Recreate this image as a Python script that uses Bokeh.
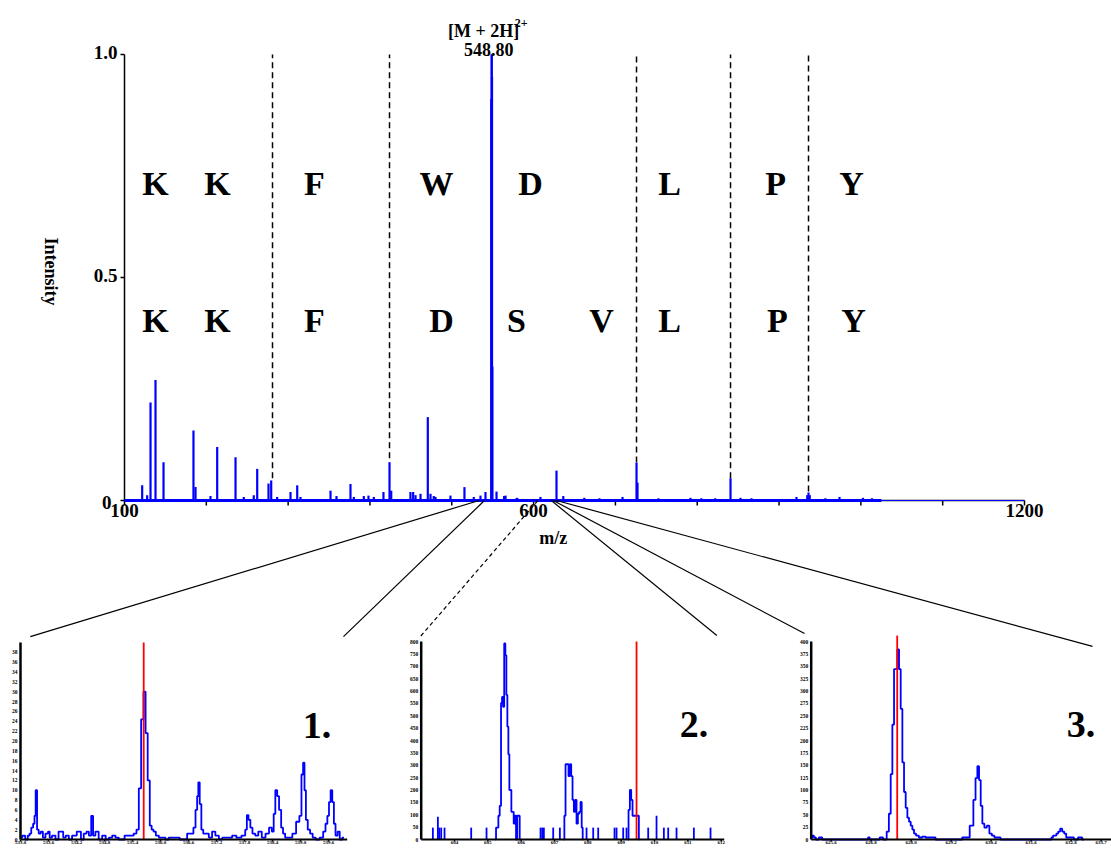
from math import pi
from bokeh.plotting import figure
from bokeh.models import Range1d
from bokeh.core.properties import value
from bokeh.embed import file_html
from bokeh.resources import INLINE

# ---------------- data ----------------
# main MS/MS spectrum (m/z, relative intensity)
main_mz = [121.6, 127.7, 131.8, 137.9, 147.7, 184.3, 186.8, 205.1, 213.3, 235.7,
           245.8, 258.0, 262.2, 276.0, 279.3, 286.6, 302.9, 311.1, 315.1, 351.8,
           359.1, 376.2, 380.3, 392.5, 398.2, 404.7, 416.5, 423.9, 426.0, 449.5,
           452.8, 455.7, 461.8, 470.7, 474.0, 478.0, 480.1, 498.4, 515.5, 526.9,
           535.1, 541.2, 548.3, 548.8, 549.2, 549.6, 554.7, 563.9, 565.7, 579.1,
           580.0, 608.4, 628.0, 636.3, 662.0, 680.5, 708.7, 725.8, 727.0, 752.6,
           791.8, 805.0, 822.0, 840.7, 852.9, 866.3, 921.3, 934.5, 936.0, 937.5,
           956.7, 973.9, 1002.6, 1013.6]
main_int = [0.034, 0.012, 0.22, 0.27, 0.086, 0.157, 0.03, 0.01, 0.12, 0.097,
            0.008, 0.012, 0.071, 0.038, 0.045, 0.008, 0.019, 0.034, 0.008, 0.022,
            0.01, 0.037, 0.008, 0.01, 0.011, 0.008, 0.019, 0.086, 0.022, 0.019,
            0.019, 0.012, 0.015, 0.187, 0.015, 0.01, 0.008, 0.011, 0.03, 0.008,
            0.011, 0.019, 0.90, 1.0, 0.95, 0.30, 0.02, 0.01, 0.011, 0.005,
            0.006, 0.008, 0.067, 0.01, 0.006, 0.005, 0.008, 0.085, 0.04, 0.005,
            0.006, 0.005, 0.005, 0.05, 0.006, 0.005, 0.008, 0.012, 0.018, 0.012,
            0.005, 0.008, 0.006, 0.005]
spectrum_end_mz = 1025.0

parent_mz = 548.80
parent_int = 1.0
parent_label = "548.80"
ion_label = "[M + 2H]"
ion_charge = "2+"

# fragment-ladder boundaries (dashed lines): m/z and lower end (intensity)
dash_mz = [280.9, 423.9, 725.8, 840.7, 936.0]
dash_lo = [0.05, 0.095, 0.085, 0.05, 0.02]

# sequence ladders
row1_letters = ["K", "K", "F", "W", "D", "L", "P", "Y"]
row1_mz = [137.9, 213.7, 332.2, 481.3, 596.2, 766.1, 895.7, 988.5]
row1_level = 0.711
row2_letters = ["K", "K", "F", "D", "S", "V", "L", "P", "Y"]
row2_mz = [137.9, 213.7, 332.2, 487.4, 579.1, 683.0, 766.1, 898.1, 991.0]
row2_level = 0.404

# main axes
main_xtick_vals = [100, 200, 300, 400, 500, 600, 700, 800, 900, 1000, 1100, 1200]
main_xlabel_vals = [100, 600, 1200]
main_xlabel_text = ["100", "600", "1200"]
main_ytick_vals = [0, 0.5, 1.0]
main_ytick_text = ["0", "0.5", "1.0"]
x_title = "m/z"
y_title = "Intensity"

# inset 1
ins1_mz = [533.01, 533.07, 533.13, 533.18, 533.21, 533.25, 533.29, 533.31, 533.34, 533.37,
           533.41, 533.46, 533.50, 533.57, 533.61, 533.64, 533.71, 533.79, 533.84, 533.89,
           533.94, 534.00, 534.07, 534.14, 534.27, 534.32, 534.39, 534.44, 534.49, 534.54,
           534.57, 534.64, 534.71, 534.79, 534.86, 534.93, 535.00, 535.07, 535.14, 535.32,
           535.39, 535.46, 535.51, 535.56, 535.61, 535.66, 535.70, 535.75, 535.79, 535.83,
           535.87, 535.93, 536.00, 536.07, 536.14, 536.21, 536.36, 536.46, 536.68, 536.73,
           536.77, 536.80, 536.82, 536.86, 536.89, 536.94, 537.00, 537.07, 537.14, 537.21,
           537.29, 537.36, 537.50, 537.57, 537.68, 537.79, 537.84, 537.86, 537.91, 537.94,
           538.00, 538.06, 538.13, 538.21, 538.29, 538.36, 538.41, 538.44, 538.48, 538.52,
           538.56, 538.61, 538.64, 538.70, 538.79, 538.86, 538.95, 539.00, 539.04, 539.07,
           539.10, 539.13, 539.18, 539.23, 539.29, 539.36, 539.46, 539.51, 539.56, 539.59,
           539.63, 539.66, 539.70, 539.73, 539.77, 539.82, 539.86, 539.93]
ins1_int = [.01, .02, 0, .02, .03, .06, .08, .12, .25, .05,
            .03, .04, .01, .03, .04, .01, .02, 0, .04, .04,
            .01, .02, 0, .02, .04, 0, .03, .04, .02, .12,
            .02, .04, 0, .02, 0, .01, .02, .01, 0, .02,
            .02, .03, .05, .26, .61, .75, .54, .30, .07, .05,
            .04, .02, .01, .01, 0, .01, .01, 0, .03, .06,
            .15, .22, .29, .18, .05, .03, .03, .01, .04, .02,
            0, .01, .01, .02, .01, .02, .05, .124, .10, .06,
            .03, .02, .04, .01, .03, .06, .04, .13, .25, .22,
            .15, .06, .03, .01, .01, .03, .09, .12, .33, .39,
            .25, .10, .05, .03, .01, 0, .01, .04, .08, .12,
            .19, .25, .19, .08, .02, .04, 0, .01]
ins1_marker_mz = 535.64
ins1_marker_top = 1.0
ins1_xticks = [533.0, 533.6, 534.2, 534.8, 535.4, 536.0, 536.6, 537.2, 537.8, 538.4, 539.0, 539.6]
ins1_xlabels = ["533.0", "533.6", "534.2", "534.8", "535.4", "536.0", "536.6", "537.2",
                "537.8", "538.4", "539.0", "539.6"]
ins1_yticks = [0, .05, .10, .15, .20, .25, .30, .35, .40, .45, .50, .55, .60, .65, .70,
               .75, .80, .85, .90, .95]
ins1_ylabels = ["0", "2", "4", "6", "8", "10", "12", "14", "16", "18", "20", "22", "24",
                "26", "28", "30", "32", "34", "36", "38"]
ins1_name = "1."

# inset 2
ins2_spike_mz = [603.35, 603.50, 603.54, 603.60, 603.70, 604.50, 604.96, 606.58, 606.63,
                 606.68, 606.96, 607.16, 607.96, 608.16, 608.31, 608.80, 608.86,
                 609.06, 609.16, 609.81, 610.06, 610.28, 610.41, 610.66, 611.18, 611.68]
ins2_spike_int = [.06, .115, .06, .06, .06, .06, .06, .06, .06,
                  .06, .06, .06, .06, .06, .06, .06, .06,
                  .06, .06, .06, .12, .06, .06, .06, .06, .06]
ins2_peak_mz = [
    [605.23, 605.26, 605.30, 605.33, 605.38, 605.41, 605.44, 605.47, 605.51, 605.54,
     605.57, 605.60, 605.63, 605.66, 605.69, 605.72, 605.76, 605.79, 605.83, 605.86,
     605.90, 605.94, 605.97],
    [607.28, 607.31, 607.35, 607.40, 607.44, 607.48, 607.52, 607.56, 607.60, 607.64,
     607.68, 607.72, 607.76, 607.80, 607.83, 607.86],
    [609.20, 609.24, 609.28, 609.32, 609.36, 609.40, 609.44, 609.48, 609.52, 609.54],
]
ins2_peak_int = [
    [0, .06, .06, .12, .17, .69, .72, .67, .99, .93,
     .73, .57, .43, .25, .25, .14, .14, .08, .12, 0,
     .12, .12, 0],
    [0, .12, .38, .38, .32, .38, .32, .20, .14, .20,
     .08, .13, .14, .19, .06, 0],
    [0, .15, .25, .20, .12, .12, .12, .12, .12, 0],
]
ins2_marker_mz = 609.46
ins2_marker_top = 1.0
ins2_xticks = [604, 605, 606, 607, 608, 609, 610, 611, 612]
ins2_xlabels = ["604", "605", "606", "607", "608", "609", "610", "611", "612"]
ins_yticks16 = [0, .0625, .125, .1875, .25, .3125, .375, .4375, .5, .5625, .625, .6875,
                .75, .8125, .875, .9375, 1.0]
ins2_ylabels = ["0", "50", "100", "150", "200", "250", "300", "350", "400", "450", "500",
                "550", "600", "650", "700", "750", "800"]
ins2_name = "2."

# inset 3
ins3_mz = [625.00, 625.06, 625.10, 625.18, 625.28, 625.38, 626.68, 626.73, 626.78, 627.03,
           627.08, 627.23, 627.30, 627.36, 627.41, 627.46, 627.51, 627.56, 627.61, 627.66,
           627.71, 627.76, 627.81, 627.86, 627.91, 627.96, 628.01, 628.06, 628.11, 628.18,
           628.28, 628.38, 628.48, 628.58, 628.68, 628.78, 629.38, 629.68, 629.83, 629.90,
           629.96, 630.01, 630.06, 630.11, 630.16, 630.23, 630.31, 630.38, 630.46, 630.53,
           630.63, 630.73, 632.18, 632.23, 632.28, 632.33, 632.38, 632.44, 632.50, 632.56,
           632.62, 632.68, 632.73, 632.83, 632.93, 633.08, 633.18]
ins3_int = [.01, .02, .01, 0, .01, 0, 0, .01, 0, 0,
            .01, 0, .04, .13, .33, .58, .86, .86, .96, .86,
            .66, .39, .24, .16, .11, .09, .07, .05, .03, .02,
            .01, .015, .01, .01, .01, 0, 0, .01, .07, .20,
            .31, .37, .30, .17, .08, .06, .07, .03, .02, .01,
            .01, 0, 0, .01, .02, .02, .03, .04, .055, .04,
            .03, .01, .01, .01, 0, .01, 0]
ins3_marker_mz = 627.58
ins3_marker_top = 1.03
ins3_xticks = [625.6, 626.8, 628.0, 629.2, 630.4, 631.6, 632.8, 633.7]
ins3_xlabels = ["625.6", "626.8", "628.0", "629.2", "630.4", "631.6", "632.8", "633.7"]
ins3_ylabels = ["0", "25", "50", "75", "100", "125", "150", "175", "200", "225", "250",
                "275", "300", "325", "350", "375", "400"]
ins3_name = "3."

# zoom connectors: start on main m/z axis, end at inset (m/z, rel. height)
conn_main_mz = [533.4, 540.0, 605.2, 621.6, 624.0, 628.0]
conn_panel = ["ins1", "ins1", "ins2", "ins2", "ins3", "ins3"]
conn_end_mz = [533.21, 539.92, 602.95, 611.87, 624.8, 633.44]
conn_end_h = [1.03, 1.03, 1.02, 1.03, 1.04, 0.975]
conn_dashed = [False, False, True, False, False, False]

# ---------------- layout ----------------
W, H = 1111, 848
BLUE, RED, BLACK = "#0000FF", "#FF0000", "#000000"
SERIF = value("Liberation Serif")

# panel boxes on the page: (left, right, top, bottom) in px, and data domains
panels = {
    "main": ((124, 1024, 54, 500), (100, 1200), (0, 1)),
    "ins1": ((20, 346.7, 642, 839), (533.0, 540.0), (0, 1)),
    "ins2": ((420.7, 723.7, 641, 839), (603.0, 612.09), (0, 1)),
    "ins3": ((810.7, 1110.7, 641, 839), (625.0, 634.0), (0, 1)),
}

xr, yr = {}, {}
for name, (box, xd, yd) in panels.items():
    left, right, top, bottom = box
    sx = (xd[1] - xd[0]) / (right - left)
    sy = (yd[1] - yd[0]) / (bottom - top)
    xr[name] = Range1d(xd[0] - left * sx, xd[0] + (W - left) * sx)
    yr[name] = Range1d(yd[0] - (H - bottom) * sy, yd[0] + bottom * sy)

p = figure(width=W, height=H, x_range=Range1d(0, W), y_range=Range1d(0, H),
           x_axis_type=None, y_axis_type=None, toolbar_location=None,
           output_backend="svg", min_border=0, title=None,
           outline_line_color=None, background_fill_color="white",
           border_fill_color="white")
p.extra_x_ranges = xr
p.extra_y_ranges = yr


def on(name):
    return dict(x_range_name=name, y_range_name=name)


def to_page(name, x, y):
    a, b = xr[name], yr[name]
    return ((x - a.start) / (a.end - a.start) * W, (y - b.start) / (b.end - b.start) * H)


bold = dict(text_font=SERIF, text_font_style="bold", text_color=BLACK)

# ---- main panel ----
x0m, x1m = panels["main"][1]
p.segment(x0=[x0m], y0=[0], x1=[x1m], y1=[0], line_color=BLACK, line_width=1.5, **on("main"))
p.segment(x0=[x0m], y0=[0], x1=[x0m], y1=[1.0], line_color=BLACK, line_width=1.5, **on("main"))
p.ray(x=main_xtick_vals, y=[0] * len(main_xtick_vals), length=5, length_units="screen",
      angle=-pi / 2, line_color=BLACK, line_width=1.5, **on("main"))
p.ray(x=[x0m] * len(main_ytick_vals), y=main_ytick_vals, length=4, length_units="screen",
      angle=pi, line_color=BLACK, line_width=1.5, **on("main"))

p.segment(x0=dash_mz, y0=dash_lo, x1=dash_mz, y1=[1.0] * len(dash_mz),
          line_color=BLACK, line_width=1.5, line_dash="6 4", **on("main"))

p.segment(x0=main_mz, y0=[0] * len(main_mz), x1=main_mz, y1=main_int,
          line_color=BLUE, line_width=2.2, **on("main"))
p.segment(x0=[parent_mz], y0=[0], x1=[parent_mz], y1=[parent_int],
          line_color=BLUE, line_width=2, **on("main"))
p.segment(x0=[x0m], y0=[0], x1=[spectrum_end_mz], y1=[0], line_color=BLUE, line_width=3,
          **on("main"))
p.segment(x0=[spectrum_end_mz], y0=[0], x1=[x1m], y1=[0], line_color=BLUE, line_width=1,
          **on("main"))

# tick labels
p.text(x=main_xlabel_vals, y=[0] * len(main_xlabel_vals), text=main_xlabel_text,
       text_align="center", text_baseline="top", y_offset=3, text_font_size="19px",
       **bold, **on("main"))
p.text(x=[x0m] * 2, y=main_ytick_vals[1:], text=main_ytick_text[1:], text_align="right",
       text_baseline="middle", x_offset=-7, y_offset=-2, text_font_size="19px",
       **bold, **on("main"))
p.text(x=[x0m], y=main_ytick_vals[:1], text=main_ytick_text[:1], text_align="right",
       text_baseline="middle", x_offset=-13, y_offset=2, text_font_size="19px",
       **bold, **on("main"))
p.text(x=[624], y=[0], text=[x_title], text_align="center", text_baseline="middle",
       y_offset=37, text_font_size="18px", **bold, **on("main"))
p.text(x=[x0m], y=[0.5], text=[y_title], text_align="center", text_baseline="middle",
       x_offset=-74, y_offset=-6, angle=-pi / 2, text_font_size="18px", **bold, **on("main"))

# parent ion annotation
p.text(x=[parent_mz], y=[parent_int], text=[parent_label], text_align="center",
       text_baseline="bottom", x_offset=-3, y_offset=1, text_font_size="18px",
       **bold, **on("main"))
p.text(x=[parent_mz], y=[parent_int], text=[ion_label], text_align="center",
       text_baseline="bottom", x_offset=-8, y_offset=-14, text_font_size="18px",
       **bold, **on("main"))
p.text(x=[parent_mz], y=[parent_int], text=[ion_charge], text_align="left",
       text_baseline="top", x_offset=23, y_offset=-36, text_font_size="12px",
       **bold, **on("main"))

# sequence letters
p.text(x=row1_mz, y=[row1_level] * len(row1_mz), text=row1_letters, text_align="center",
       text_baseline="middle", text_font_size="34px", **bold, **on("main"))
p.text(x=row2_mz, y=[row2_level] * len(row2_mz), text=row2_letters, text_align="center",
       text_baseline="middle", text_font_size="34px", **bold, **on("main"))

# ---- insets ----
insets = [
    ("ins1", ins1_marker_mz, ins1_marker_top, ins1_xticks, ins1_xlabels, ins1_yticks,
     ins1_ylabels, ins1_name),
    ("ins2", ins2_marker_mz, ins2_marker_top, ins2_xticks, ins2_xlabels, ins_yticks16,
     ins2_ylabels, ins2_name),
    ("ins3", ins3_marker_mz, ins3_marker_top, ins3_xticks, ins3_xlabels, ins_yticks16,
     ins3_ylabels, ins3_name),
]

p.step(x=ins1_mz, y=ins1_int, mode="center", line_color=BLUE, line_width=1.8, **on("ins1"))
p.segment(x0=ins2_spike_mz, y0=[0] * len(ins2_spike_mz), x1=ins2_spike_mz, y1=ins2_spike_int,
          line_color=BLUE, line_width=1.8, **on("ins2"))
for xs, ys in zip(ins2_peak_mz, ins2_peak_int):
    p.step(x=xs, y=ys, mode="center", line_color=BLUE, line_width=1.8, **on("ins2"))
p.step(x=ins3_mz, y=ins3_int, mode="center", line_color=BLUE, line_width=1.8, **on("ins3"))

for name, mmz, mtop, xt, xl, yt, yl, label in insets:
    xa, xb = panels[name][1]
    p.segment(x0=[mmz], y0=[0], x1=[mmz], y1=[mtop], line_color=RED, line_width=1.8, **on(name))
    p.segment(x0=[xa], y0=[0], x1=[xa], y1=[1.0], line_color=BLACK, line_width=2.5, **on(name))
    p.segment(x0=[xa], y0=[0], x1=[xb], y1=[0], line_color=BLACK, line_width=2, **on(name))
    p.ray(x=xt, y=[0] * len(xt), length=2, length_units="screen", angle=-pi / 2,
          line_color=BLACK, line_width=1.5, **on(name))
    p.text(x=xt, y=[0] * len(xt), text=xl, text_align="center", text_baseline="top",
           y_offset=1, text_font_size="5px", **bold, **on(name))
    p.text(x=[xa] * len(yt), y=yt, text=yl, text_align="right", text_baseline="middle",
           x_offset=-3, text_font_size="5.5px", **bold, **on(name))
    p.text(x=[xb], y=[0.58], text=[label], text_align="right", text_baseline="alphabetic",
           x_offset=-16, text_font_size="38px", **bold, **on(name))

# zoom connectors
for mz0, pan, mz1, h1, dashed in zip(conn_main_mz, conn_panel, conn_end_mz, conn_end_h,
                                     conn_dashed):
    sx0, sy0 = to_page("main", mz0, 0)
    sx1, sy1 = to_page(pan, mz1, h1)
    p.line(x=[sx0, sx1], y=[sy0, sy1], line_color=BLACK, line_width=1.2,
           line_dash="4 3" if dashed else "solid")

open("out.html", "w").write(file_html(p, INLINE))
